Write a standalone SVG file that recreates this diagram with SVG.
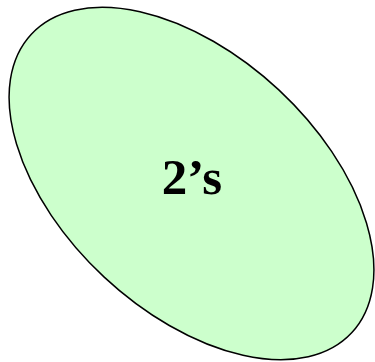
<svg xmlns="http://www.w3.org/2000/svg" width="375" height="362" viewBox="0 0 375 362">
<style>
.blob{fill:#CCFFCC;stroke:#000;stroke-width:1.5}
.lbl{font-family:"Liberation Serif",serif;font-weight:bold;font-size:51px;fill:#000;text-anchor:middle}
</style>
<g id="node-2s">
<ellipse class="blob" cx="191.5" cy="183.5" rx="219" ry="128" transform="rotate(43 191.5 183.5)"/>
<text class="lbl" x="192" y="194">2’s</text>
</g>
<g id="connectors"/>
</svg>
